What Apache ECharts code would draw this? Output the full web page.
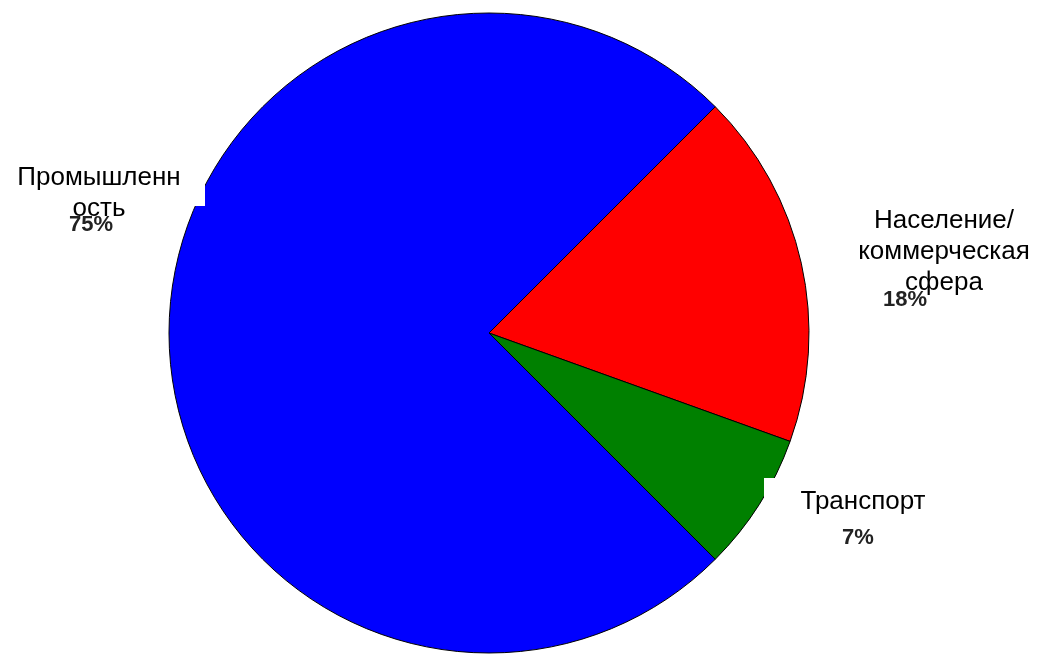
<!DOCTYPE html>
<html>
<head>
<meta charset="utf-8">
<script src="https://cdn.jsdelivr.net/npm/echarts@6/dist/echarts.min.js"></script>
<style>
html,body{margin:0;padding:0;background:#fff;}
#chart{width:1039px;height:660px;}
</style>
</head>
<body>
<div id="chart"></div>
<script>
// Data
var categories = ['Население/коммерческая сфера', 'Транспорт', 'Промышленность'];
var labelTexts = ['Население/\nкоммерческая\nсфера', 'Транспорт', 'Промышленн\nость'];
var values = [18, 7, 75];
var colors = ['#ff0000', '#008000', '#0000ff'];

// Layout (screen pixels)
var nameLayout = [
  {x: 944, y: 252},
  {x: 863, y: 502},
  {x: 99,  y: 193}
];
var pctLayout = [
  {x: 905, y: 300},
  {x: 858, y: 538},
  {x: 91,  y: 225}
];
var boxLayout = [
  null,
  {x: 764, y: 478, w: 200, h: 52},
  {x: -10, y: 150, w: 215, h: 56}
];

var chart = echarts.init(document.getElementById('chart'), null, {renderer: 'canvas'});

var pieData = categories.map(function (c, i) {
  return {name: c, value: values[i], itemStyle: {color: colors[i]}};
});
var plainData = categories.map(function (c, i) {
  return {name: c, value: values[i]};
});
var boxData = categories.map(function (c, i) {
  var b = boxLayout[i];
  return {
    name: c, value: values[i],
    label: b ? {show: true, width: b.w, height: b.h} : {show: false}
  };
});

var center = [489, 333];
var radius = 320;
var startAngle = 45;

function base(z) {
  return {
    type: 'pie',
    center: center,
    radius: radius,
    startAngle: startAngle,
    clockwise: true,
    z: z,
    emphasis: {disabled: true},
    labelLine: {show: false}
  };
}

var sPie = base(2);
sPie.data = pieData;
sPie.itemStyle = {borderColor: '#000000', borderWidth: 1};
sPie.label = {show: false};

var sBox = base(3);
sBox.silent = true;
sBox.data = boxData;
sBox.itemStyle = {color: 'rgba(0,0,0,0)', borderWidth: 0};
sBox.label = {
  show: true,
  position: 'outside',
  formatter: ' ',
  overflow: 'none',
  backgroundColor: '#ffffff',
  padding: 0
};
sBox.labelLayout = function (p) {
  var b = boxLayout[p.dataIndex] || {x: 0, y: 0, w: 1, h: 1};
  return {x: b.x, y: b.y, width: b.w, height: b.h, align: 'left', verticalAlign: 'top'};
};

var sName = base(4);
sName.silent = true;
sName.data = plainData;
sName.itemStyle = {color: 'rgba(0,0,0,0)', borderWidth: 0};
sName.label = {
  show: true,
  position: 'outside',
  formatter: function (p) { return labelTexts[p.dataIndex]; },
  overflow: 'none',
  fontFamily: 'Liberation Sans, Arial, sans-serif',
  fontSize: 26,
  lineHeight: 31,
  color: '#000000',
  align: 'center'
};
sName.labelLayout = function (p) {
  var l = nameLayout[p.dataIndex];
  return {x: l.x, y: l.y, width: 240, align: 'center', verticalAlign: 'middle'};
};

var sPct = base(5);
sPct.silent = true;
sPct.data = plainData;
sPct.itemStyle = {color: 'rgba(0,0,0,0)', borderWidth: 0};
sPct.label = {
  show: true,
  position: 'outside',
  formatter: '{c}%',
  overflow: 'none',
  fontFamily: 'Liberation Sans, Arial, sans-serif',
  fontWeight: 'bold',
  fontSize: 22,
  color: '#222222'
};
sPct.labelLayout = function (p) {
  var l = pctLayout[p.dataIndex];
  return {x: l.x, y: l.y, width: 80, align: 'center', verticalAlign: 'middle'};
};

chart.setOption({
  animation: false,
  backgroundColor: '#ffffff',
  series: [sPie, sBox, sName, sPct]
});
</script>
</body>
</html>
